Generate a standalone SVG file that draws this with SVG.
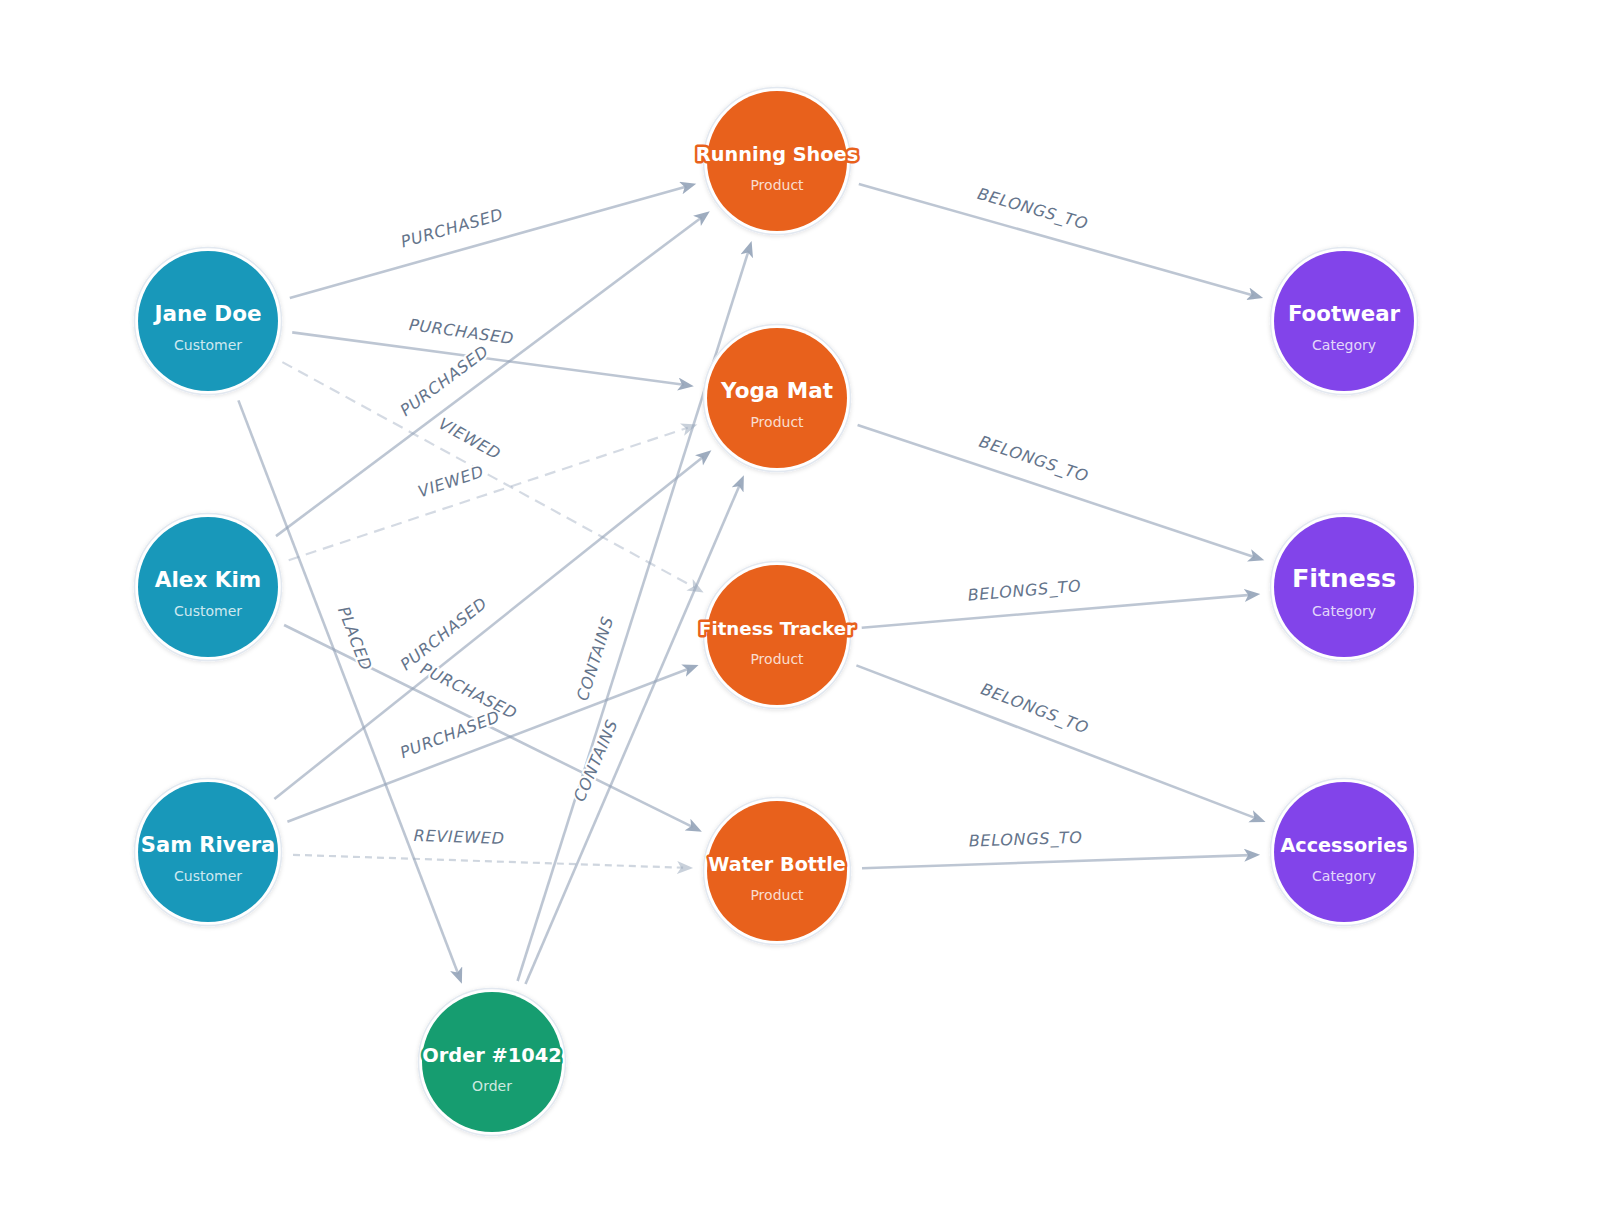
<svg xmlns="http://www.w3.org/2000/svg" width="1600" height="1222" viewBox="0 0 1600 1222">
<defs>
<style>
.e{fill:none;stroke:#94a3b8;stroke-width:2.6;stroke-opacity:0.62}
.v{fill:none;stroke:#94a3b8;stroke-width:2.2;stroke-opacity:0.4;stroke-dasharray:11 7}
.r{fill:none;stroke:#94a3b8;stroke-width:2.2;stroke-opacity:0.45;stroke-dasharray:7 5}
.lb{font-family:"DejaVu Sans",sans-serif;font-style:italic;font-size:16px;letter-spacing:0.7px;fill:#64748b;text-anchor:middle;stroke:#ffffff;stroke-width:4;stroke-linejoin:round;paint-order:stroke}
.ring{fill:#ffffff;stroke:#e2e8f0;stroke-width:1.5}
.t{font-family:"DejaVu Sans",sans-serif;font-weight:bold;fill:#ffffff;text-anchor:middle;stroke-width:5;stroke-linejoin:round;paint-order:stroke}
.s{font-family:"DejaVu Sans",sans-serif;font-size:14px;fill:#ffffff;fill-opacity:0.8;text-anchor:middle}
.cu{fill:#1898ba}.cu2{stroke:#1898ba}
.pr{fill:#e8611c}.pr2{stroke:#e8611c}
.ca{fill:#8244ea}.ca2{stroke:#8244ea}
.or{fill:#169d70}.or2{stroke:#169d70}
</style>
<marker id="a" markerUnits="userSpaceOnUse" markerWidth="18" markerHeight="14" refX="6" refY="6.5" orient="auto">
<path d="M0,0 L16,6.5 L0,13 L4,6.5 z" fill="#94a3b8" fill-opacity="0.9"/>
</marker>
<marker id="ad" markerUnits="userSpaceOnUse" markerWidth="18" markerHeight="14" refX="6" refY="6.5" orient="auto">
<path d="M0,0 L16,6.5 L0,13 L4,6.5 z" fill="#94a3b8" fill-opacity="0.5"/>
</marker>
<filter id="sh" x="-20%" y="-20%" width="140%" height="140%">
<feDropShadow dx="0" dy="1" stdDeviation="2" flood-color="#0f172a" flood-opacity="0.12"/>
</filter>
</defs>
<rect width="1600" height="1222" fill="#ffffff"/>
<g id="connectors">
<line class="e" x1="289.8" y1="298.0" x2="686.6" y2="186.4" marker-end="url(#a)"/>
<line class="e" x1="292.2" y1="332.4" x2="683.9" y2="384.8" marker-end="url(#a)"/>
<line class="v" x1="282.4" y1="362.1" x2="694.8" y2="587.6" marker-end="url(#ad)"/>
<line class="e" x1="238.4" y1="400.4" x2="458.3" y2="974.3" marker-end="url(#a)"/>
<line class="e" x1="276.0" y1="536.1" x2="701.8" y2="217.3" marker-end="url(#a)"/>
<line class="v" x1="288.7" y1="560.2" x2="687.8" y2="427.7" marker-end="url(#ad)"/>
<line class="e" x1="284.1" y1="625.0" x2="692.9" y2="827.2" marker-end="url(#a)"/>
<line class="e" x1="274.4" y1="799.0" x2="703.6" y2="456.6" marker-end="url(#a)"/>
<line class="e" x1="287.4" y1="821.7" x2="689.2" y2="668.5" marker-end="url(#a)"/>
<line class="r" x1="293.0" y1="854.8" x2="683.1" y2="867.7" marker-end="url(#ad)"/>
<line class="e" x1="517.6" y1="981.0" x2="748.6" y2="250.6" marker-end="url(#a)"/>
<line class="e" x1="525.5" y1="983.9" x2="739.9" y2="484.4" marker-end="url(#a)"/>
<line class="e" x1="858.8" y1="184.1" x2="1253.5" y2="295.4" marker-end="url(#a)"/>
<line class="e" x1="857.6" y1="424.9" x2="1254.8" y2="557.2" marker-end="url(#a)"/>
<line class="e" x1="861.7" y1="627.8" x2="1250.3" y2="594.9" marker-end="url(#a)"/>
<line class="e" x1="856.4" y1="665.4" x2="1256.2" y2="818.4" marker-end="url(#a)"/>
<line class="e" x1="862.0" y1="868.2" x2="1250.1" y2="855.1" marker-end="url(#a)"/>
<g>
<text class="lb" transform="translate(458.4,250.6) rotate(-15.7)" y="-18">PURCHASED</text>
<text class="lb" transform="translate(458.4,354.9) rotate(7.71)" y="-18">PURCHASED</text>
<text class="lb" transform="translate(458.4,459.2) rotate(28.89)" y="-18">VIEWED</text>
<text class="lb" transform="translate(333.0,647.0) rotate(69.03)" y="-18">PLACED</text>
<text class="lb" transform="translate(458.4,399.6) rotate(-36.83)" y="-18">PURCHASED</text>
<text class="lb" transform="translate(458.4,503.8) rotate(-18.37)" y="-18">VIEWED</text>
<text class="lb" transform="translate(458.4,712.0) rotate(26.53)" y="-18">PURCHASED</text>
<text class="lb" transform="translate(458.4,652.2) rotate(-38.59)" y="-18">PURCHASED</text>
<text class="lb" transform="translate(458.4,756.5) rotate(-20.88)" y="-18">PURCHASED</text>
<text class="lb" transform="translate(458.4,860.4) rotate(1.91)" y="-18">REVIEWED</text>
<text class="lb" transform="translate(617.4,665.6) rotate(-72.45)" y="-18">CONTAINS</text>
<text class="lb" transform="translate(617.4,769.8) rotate(-66.77)" y="-18">CONTAINS</text>
<text class="lb" transform="translate(1026.5,231.4) rotate(15.76)" y="-18">BELONGS_TO</text>
<text class="lb" transform="translate(1026.5,481.2) rotate(18.43)" y="-18">BELONGS_TO</text>
<text class="lb" transform="translate(1026.5,613.9) rotate(-4.84)" y="-18">BELONGS_TO</text>
<text class="lb" transform="translate(1026.5,730.5) rotate(20.94)" y="-18">BELONGS_TO</text>
<text class="lb" transform="translate(1026.5,862.6) rotate(-1.92)" y="-18">BELONGS_TO</text>
</g>
</g>
<g id="jane-doe" transform="translate(208,321)">
<circle class="ring" r="73.5" filter="url(#sh)"/><circle class="cu" r="70"/>
<text class="t cu2" y="0" font-size="21.5">Jane Doe</text><text class="s" y="29">Customer</text>
</g>
<g id="alex-kim" transform="translate(208,587)">
<circle class="ring" r="73.5" filter="url(#sh)"/><circle class="cu" r="70"/>
<text class="t cu2" y="0" font-size="21.5">Alex Kim</text><text class="s" y="29">Customer</text>
</g>
<g id="sam-rivera" transform="translate(208,852)">
<circle class="ring" r="73.5" filter="url(#sh)"/><circle class="cu" r="70"/>
<text class="t cu2" y="0" font-size="21">Sam Rivera</text><text class="s" y="29">Customer</text>
</g>
<g id="order-1042" transform="translate(492,1062)">
<circle class="ring" r="73.5" filter="url(#sh)"/><circle class="or" r="70"/>
<text class="t or2" y="0" font-size="19.4">Order #1042</text><text class="s" y="29">Order</text>
</g>
<g id="running-shoes" transform="translate(777,161)">
<circle class="ring" r="73.5" filter="url(#sh)"/><circle class="pr" r="70"/>
<text class="t pr2" y="0" font-size="19.3">Running Shoes</text><text class="s" y="29">Product</text>
</g>
<g id="yoga-mat" transform="translate(777,398)">
<circle class="ring" r="73.5" filter="url(#sh)"/><circle class="pr" r="70"/>
<text class="t pr2" y="0" font-size="21.5">Yoga Mat</text><text class="s" y="29">Product</text>
</g>
<g id="fitness-tracker" transform="translate(777,635)">
<circle class="ring" r="73.5" filter="url(#sh)"/><circle class="pr" r="70"/>
<text class="t pr2" y="0" font-size="18.2">Fitness Tracker</text><text class="s" y="29">Product</text>
</g>
<g id="water-bottle" transform="translate(777,871)">
<circle class="ring" r="73.5" filter="url(#sh)"/><circle class="pr" r="70"/>
<text class="t pr2" y="0" font-size="19.2">Water Bottle</text><text class="s" y="29">Product</text>
</g>
<g id="footwear" transform="translate(1344,321)">
<circle class="ring" r="73.5" filter="url(#sh)"/><circle class="ca" r="70"/>
<text class="t ca2" y="0" font-size="21.3">Footwear</text><text class="s" y="29">Category</text>
</g>
<g id="fitness" transform="translate(1344,587)">
<circle class="ring" r="73.5" filter="url(#sh)"/><circle class="ca" r="70"/>
<text class="t ca2" y="0" font-size="25.5">Fitness</text><text class="s" y="29">Category</text>
</g>
<g id="accessories" transform="translate(1344,852)">
<circle class="ring" r="73.5" filter="url(#sh)"/><circle class="ca" r="70"/>
<text class="t ca2" y="0" font-size="19.2">Accessories</text><text class="s" y="29">Category</text>
</g>
</svg>
